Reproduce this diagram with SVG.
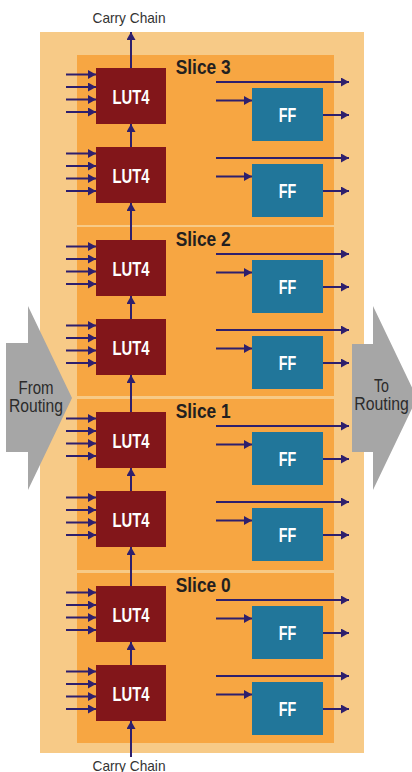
<svg xmlns="http://www.w3.org/2000/svg" width="412" height="772" viewBox="0 0 412 772">
  <style>
    .outer { fill: #f7ca87; }
    .slice { fill: #f7a642; }
    .lut { fill: #82161a; }
    .ff { fill: #21769a; }
    .big { fill: #a6a6a6; }
    .wire { stroke: #2e1f6d; stroke-width: 2; fill: none; marker-end: url(#ah); }
    .blk { font-family: "Liberation Sans", Arial, sans-serif; font-weight: bold; font-size: 19.5px; fill: #ffffff; text-anchor: middle; }
    .lbl { font-family: "Liberation Sans", Arial, sans-serif; font-weight: bold; font-size: 19.5px; fill: #231f20; }
    .cap { font-family: "Liberation Sans", Arial, sans-serif; font-size: 15px; fill: #333333; text-anchor: middle; }
    .route { font-family: "Liberation Sans", Arial, sans-serif; font-size: 18px; fill: #2b2b2b; text-anchor: middle; }
  </style>
  <defs>
    <marker id="ah" markerUnits="userSpaceOnUse" markerWidth="9" markerHeight="9" refX="8" refY="4.5" orient="auto">
      <path d="M0,0 L8,4.5 L0,9 z" fill="#2e1f6d"/>
    </marker>
  </defs>

  <!-- CLB frame -->
  <rect class="outer" x="40" y="32" width="324" height="721"/>

  <!-- Slice 3 -->
  <g id="slice3">
    <rect class="slice" x="77" y="55" width="257" height="170"/>
    <text class="lbl" x="175.7" y="74.3" textLength="55" lengthAdjust="spacingAndGlyphs">Slice 3</text>
  </g>
  <g id="slice3-lutA"><rect class="lut" x="96" y="68" width="70" height="56"/><text class="blk" x="131" y="104" textLength="37" lengthAdjust="spacingAndGlyphs">LUT4</text></g>
  <g id="slice3-lutB"><rect class="lut" x="96" y="147" width="70" height="56"/><text class="blk" x="131" y="183" textLength="37" lengthAdjust="spacingAndGlyphs">LUT4</text></g>
  <g id="slice3-ffA"><rect class="ff" x="252" y="88" width="71" height="53"/><text class="blk" x="287.5" y="121.5" textLength="17.5" lengthAdjust="spacingAndGlyphs">FF</text></g>
  <g id="slice3-ffB"><rect class="ff" x="252" y="164" width="71" height="53"/><text class="blk" x="287.5" y="197.5" textLength="17.5" lengthAdjust="spacingAndGlyphs">FF</text></g>

  <!-- Slice 2 -->
  <g id="slice2">
    <rect class="slice" x="77" y="227" width="257" height="169"/>
    <text class="lbl" x="175.7" y="246.3" textLength="55" lengthAdjust="spacingAndGlyphs">Slice 2</text>
  </g>
  <g id="slice2-lutA"><rect class="lut" x="96" y="240" width="70" height="56"/><text class="blk" x="131" y="276" textLength="37" lengthAdjust="spacingAndGlyphs">LUT4</text></g>
  <g id="slice2-lutB"><rect class="lut" x="96" y="319" width="70" height="56"/><text class="blk" x="131" y="355" textLength="37" lengthAdjust="spacingAndGlyphs">LUT4</text></g>
  <g id="slice2-ffA"><rect class="ff" x="252" y="260" width="71" height="53"/><text class="blk" x="287.5" y="293.5" textLength="17.5" lengthAdjust="spacingAndGlyphs">FF</text></g>
  <g id="slice2-ffB"><rect class="ff" x="252" y="336" width="71" height="53"/><text class="blk" x="287.5" y="369.5" textLength="17.5" lengthAdjust="spacingAndGlyphs">FF</text></g>

  <!-- Slice 1 -->
  <g id="slice1">
    <rect class="slice" x="77" y="399" width="257" height="171"/>
    <text class="lbl" x="175.7" y="418.3" textLength="55" lengthAdjust="spacingAndGlyphs">Slice 1</text>
  </g>
  <g id="slice1-lutA"><rect class="lut" x="96" y="412" width="70" height="56"/><text class="blk" x="131" y="448" textLength="37" lengthAdjust="spacingAndGlyphs">LUT4</text></g>
  <g id="slice1-lutB"><rect class="lut" x="96" y="491" width="70" height="56"/><text class="blk" x="131" y="527" textLength="37" lengthAdjust="spacingAndGlyphs">LUT4</text></g>
  <g id="slice1-ffA"><rect class="ff" x="252" y="432" width="71" height="53"/><text class="blk" x="287.5" y="465.5" textLength="17.5" lengthAdjust="spacingAndGlyphs">FF</text></g>
  <g id="slice1-ffB"><rect class="ff" x="252" y="508" width="71" height="53"/><text class="blk" x="287.5" y="541.5" textLength="17.5" lengthAdjust="spacingAndGlyphs">FF</text></g>

  <!-- Slice 0 -->
  <g id="slice0">
    <rect class="slice" x="77" y="573" width="257" height="170"/>
    <text class="lbl" x="175.7" y="592.3" textLength="55" lengthAdjust="spacingAndGlyphs">Slice 0</text>
  </g>
  <g id="slice0-lutA"><rect class="lut" x="96" y="586" width="70" height="56"/><text class="blk" x="131" y="622" textLength="37" lengthAdjust="spacingAndGlyphs">LUT4</text></g>
  <g id="slice0-lutB"><rect class="lut" x="96" y="665" width="70" height="56"/><text class="blk" x="131" y="701" textLength="37" lengthAdjust="spacingAndGlyphs">LUT4</text></g>
  <g id="slice0-ffA"><rect class="ff" x="252" y="606" width="71" height="53"/><text class="blk" x="287.5" y="639.5" textLength="17.5" lengthAdjust="spacingAndGlyphs">FF</text></g>
  <g id="slice0-ffB"><rect class="ff" x="252" y="682" width="71" height="53"/><text class="blk" x="287.5" y="715.5" textLength="17.5" lengthAdjust="spacingAndGlyphs">FF</text></g>

  <!-- Routing arrows -->
  <g id="from-routing">
    <polygon class="big" points="6,343 28,343 28,306 72,398 28,490 28,452 6,452"/>
    <text class="route" x="36" y="394" textLength="35" lengthAdjust="spacingAndGlyphs">From</text>
    <text class="route" x="36" y="411.5" textLength="54" lengthAdjust="spacingAndGlyphs">Routing</text>
  </g>
  <g id="to-routing">
    <polygon class="big" points="352,344 373,344 373,306 417,398 373,490 373,452 352,452"/>
    <text class="route" x="381.5" y="391.5" textLength="15" lengthAdjust="spacingAndGlyphs">To</text>
    <text class="route" x="381.5" y="410" textLength="54.5" lengthAdjust="spacingAndGlyphs">Routing</text>
  </g>

  <!-- Carry chain labels -->
  <g id="carry-labels">
    <text class="cap" x="129" y="22.5" textLength="73" lengthAdjust="spacingAndGlyphs">Carry Chain</text>
    <text class="cap" x="129" y="770.5" textLength="73" lengthAdjust="spacingAndGlyphs">Carry Chain</text>
  </g>

  <!-- Connectors -->
  <g id="connectors">
    <!-- carry chain -->
    <line class="wire" x1="131" y1="68" x2="131" y2="32"/>
    <line class="wire" x1="131" y1="147" x2="131" y2="124"/>
    <line class="wire" x1="131" y1="240" x2="131" y2="203"/>
    <line class="wire" x1="131" y1="319" x2="131" y2="296"/>
    <line class="wire" x1="131" y1="412" x2="131" y2="375"/>
    <line class="wire" x1="131" y1="491" x2="131" y2="468"/>
    <line class="wire" x1="131" y1="586" x2="131" y2="547"/>
    <line class="wire" x1="131" y1="665" x2="131" y2="642"/>
    <line class="wire" x1="131" y1="757" x2="131" y2="721"/>

    <!-- LUT inputs -->
    <line class="wire" x1="66" y1="74.5" x2="96" y2="74.5"/>
    <line class="wire" x1="66" y1="87" x2="96" y2="87"/>
    <line class="wire" x1="66" y1="99.5" x2="96" y2="99.5"/>
    <line class="wire" x1="66" y1="112" x2="96" y2="112"/>
    <line class="wire" x1="66" y1="153.5" x2="96" y2="153.5"/>
    <line class="wire" x1="66" y1="166" x2="96" y2="166"/>
    <line class="wire" x1="66" y1="178.5" x2="96" y2="178.5"/>
    <line class="wire" x1="66" y1="191" x2="96" y2="191"/>

    <line class="wire" x1="66" y1="246.5" x2="96" y2="246.5"/>
    <line class="wire" x1="66" y1="259" x2="96" y2="259"/>
    <line class="wire" x1="66" y1="271.5" x2="96" y2="271.5"/>
    <line class="wire" x1="66" y1="284" x2="96" y2="284"/>
    <line class="wire" x1="66" y1="325.5" x2="96" y2="325.5"/>
    <line class="wire" x1="66" y1="338" x2="96" y2="338"/>
    <line class="wire" x1="66" y1="350.5" x2="96" y2="350.5"/>
    <line class="wire" x1="66" y1="363" x2="96" y2="363"/>

    <line class="wire" x1="66" y1="418.5" x2="96" y2="418.5"/>
    <line class="wire" x1="66" y1="431" x2="96" y2="431"/>
    <line class="wire" x1="66" y1="443.5" x2="96" y2="443.5"/>
    <line class="wire" x1="66" y1="456" x2="96" y2="456"/>
    <line class="wire" x1="66" y1="497.5" x2="96" y2="497.5"/>
    <line class="wire" x1="66" y1="510" x2="96" y2="510"/>
    <line class="wire" x1="66" y1="522.5" x2="96" y2="522.5"/>
    <line class="wire" x1="66" y1="535" x2="96" y2="535"/>

    <line class="wire" x1="66" y1="592.5" x2="96" y2="592.5"/>
    <line class="wire" x1="66" y1="605" x2="96" y2="605"/>
    <line class="wire" x1="66" y1="617.5" x2="96" y2="617.5"/>
    <line class="wire" x1="66" y1="630" x2="96" y2="630"/>
    <line class="wire" x1="66" y1="671.5" x2="96" y2="671.5"/>
    <line class="wire" x1="66" y1="684" x2="96" y2="684"/>
    <line class="wire" x1="66" y1="696.5" x2="96" y2="696.5"/>
    <line class="wire" x1="66" y1="709" x2="96" y2="709"/>

    <!-- slice outputs, FF inputs and FF outputs -->
    <line class="wire" x1="216" y1="82" x2="349" y2="82"/>
    <line class="wire" x1="216" y1="100.5" x2="252" y2="100.5"/>
    <line class="wire" x1="323" y1="115" x2="349" y2="115"/>
    <line class="wire" x1="216" y1="158" x2="349" y2="158"/>
    <line class="wire" x1="216" y1="176.5" x2="252" y2="176.5"/>
    <line class="wire" x1="323" y1="191" x2="349" y2="191"/>

    <line class="wire" x1="216" y1="254" x2="349" y2="254"/>
    <line class="wire" x1="216" y1="272.5" x2="252" y2="272.5"/>
    <line class="wire" x1="323" y1="287" x2="349" y2="287"/>
    <line class="wire" x1="216" y1="330" x2="349" y2="330"/>
    <line class="wire" x1="216" y1="348.5" x2="252" y2="348.5"/>
    <line class="wire" x1="323" y1="363" x2="349" y2="363"/>

    <line class="wire" x1="216" y1="426" x2="349" y2="426"/>
    <line class="wire" x1="216" y1="444.5" x2="252" y2="444.5"/>
    <line class="wire" x1="323" y1="459" x2="349" y2="459"/>
    <line class="wire" x1="216" y1="502" x2="349" y2="502"/>
    <line class="wire" x1="216" y1="520.5" x2="252" y2="520.5"/>
    <line class="wire" x1="323" y1="535" x2="349" y2="535"/>

    <line class="wire" x1="216" y1="600" x2="349" y2="600"/>
    <line class="wire" x1="216" y1="618.5" x2="252" y2="618.5"/>
    <line class="wire" x1="323" y1="633" x2="349" y2="633"/>
    <line class="wire" x1="216" y1="676" x2="349" y2="676"/>
    <line class="wire" x1="216" y1="694.5" x2="252" y2="694.5"/>
    <line class="wire" x1="323" y1="709" x2="349" y2="709"/>
  </g>
</svg>
